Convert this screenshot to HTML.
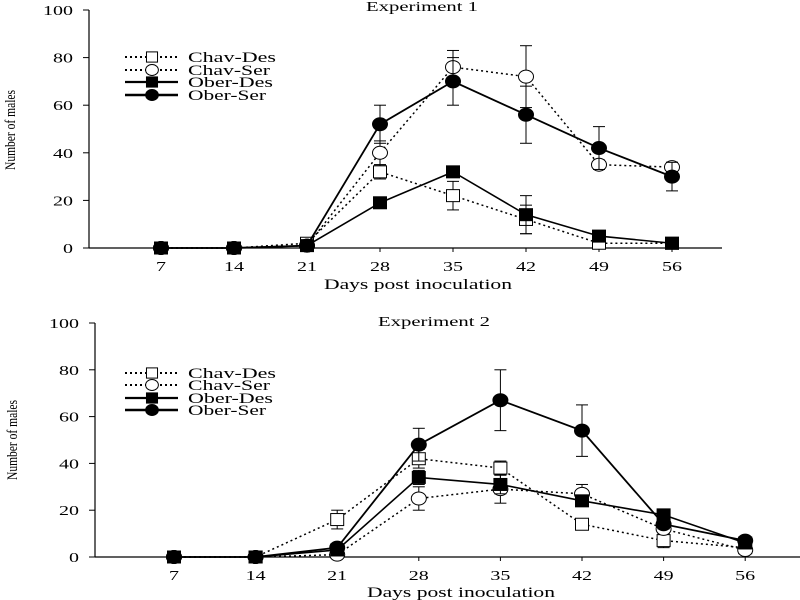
<!DOCTYPE html>
<html><head><meta charset="utf-8"><style>
html,body{margin:0;padding:0;background:#fff;}
svg{display:block;font-family:"Liberation Serif",serif;}
</style></head><body>
<svg id="chart" width="800" height="600" xmlns="http://www.w3.org/2000/svg"></svg>
<script>
const days = [7,14,21,28,35,42,49,56];
const yTicks = [0,20,40,60,80,100];
const seriesNames = ["Chav-Des","Chav-Ser","Ober-Des","Ober-Ser"];
// Experiment 1
const e1ChavDes = [0,0,2,32,22,12,2,2];
const e1ChavSer = [0,0,1,40,76,72,35,34];
const e1OberDes = [0,0,1,19,32,14,5,2];
const e1OberSer = [0,0,1,52,70,56,42,30];
const e1ChavDesErr = [0,0,0,3,6,6,0,0];
const e1ChavSerErr = [0,0,0,5,7,13,2,2];
const e1OberDesErr = [0,0,0,1,2,8,0,0];
const e1OberSerErr = [0,0,0,8,10,12,9,6];
// Experiment 2
const e2ChavDes = [0,0,16,42,38,14,7,4];
const e2ChavSer = [0,0,1,25,29,27,12,3];
const e2OberDes = [0,0,3,34,31,24,18,6];
const e2OberSer = [0,0,4,48,67,54,14,7];
const e2ChavDesErr = [0,0,4,4,3,1,3,0];
const e2ChavSerErr = [0,0,0,5,6,4,2,0];
const e2OberDesErr = [0,0,0,3,4,1,1,0];
const e2OberSerErr = [0,0,0,7,13,11,2,0];

const NS="http://www.w3.org/2000/svg";
const svg=document.getElementById('chart');
function mk(tag,attrs,parent){const e=document.createElementNS(NS,tag);for(const k in attrs)e.setAttribute(k,attrs[k]);(parent||svg).appendChild(e);return e;}
const legLen=[88,82,85,78];

function panel(cfg){
  const g=mk('g',{});
  
  
  const X=d=>cfg.x7+(d-7)*cfg.dx/7;
  const Y=v=>cfg.y0-v*cfg.dy;
  const ya=mk('line',{x1:cfg.ax,y1:Y(100),x2:cfg.ax,y2:Y(0),stroke:'#000','stroke-width':1.2},g);
  
  const xa=mk('line',{x1:cfg.ax,y1:Y(0),x2:cfg.axEnd,y2:Y(0),stroke:'#000','stroke-width':1.2},g);
  
  yTicks.forEach(t=>{
    mk('line',{x1:cfg.ax-6,y1:Y(t),x2:cfg.ax,y2:Y(t),stroke:'#000'},g);
    const s=String(t);
    const tx=mk('text',{x:cfg.ax-16,y:Y(t)+5,'text-anchor':'end','font-size':14,textLength:s.length*10,lengthAdjust:'spacingAndGlyphs'},g);
    tx.textContent=s;
    
  });
  days.forEach(d=>{
    mk('line',{x1:X(d),y1:Y(0),x2:X(d),y2:Y(0)+4,stroke:'#000'},g);
    const s=String(d);
    const tx=mk('text',{x:X(d),y:Y(0)+23,'text-anchor':'middle','font-size':14,textLength:s.length*10,lengthAdjust:'spacingAndGlyphs'},g);
    tx.textContent=s;
    
  });
  const ti=mk('text',{x:cfg.titleX,y:cfg.titleY,'text-anchor':'middle','font-size':14,textLength:112,lengthAdjust:'spacingAndGlyphs'},g);
  ti.textContent=cfg.title;
  const xl=mk('text',{x:cfg.xlX,y:cfg.xlY,'text-anchor':'middle','font-size':15,textLength:188,lengthAdjust:'spacingAndGlyphs'},g);
  xl.textContent='Days post inoculation';
  const yl=mk('text',{x:0,y:0,'text-anchor':'middle','font-size':15,textLength:80,lengthAdjust:'spacingAndGlyphs',transform:`translate(${cfg.ylX},${cfg.ylY}) rotate(-90)`},g);
  yl.textContent='Number of males';

  const styles=[
    {dash:'2,3',w:1.5,marker:'square',fill:'#fff'},
    {dash:'2,3',w:1.5,marker:'circle',fill:'#fff'},
    {dash:'',w:1.6,marker:'square',fill:'#000'},
    {dash:'',w:1.8,marker:'circle',fill:'#000'}];
  function marker(type,x,y,fill,parent,sc){
    sc=sc||1;
    if(type==='square') return mk('rect',{x:x-6.5*sc,y:y-6*sc,width:13*sc,height:12*sc,fill:fill,stroke:'#000','stroke-width':1},parent);
    return mk('ellipse',{cx:x,cy:y,rx:7.5*sc,ry:6.5*sc,fill:fill,stroke:'#000','stroke-width':1},parent);
  }
  cfg.series.forEach((vals,i)=>{
    const st=styles[i];const errs=cfg.errs[i];
    const sg=mk('g',{},g);
    
    
    vals.forEach((v,j)=>{
      if(errs[j]>0){
        const x=X(days[j]);
        mk('line',{x1:x,y1:Y(v-errs[j]),x2:x,y2:Y(v+errs[j]),stroke:'#000','stroke-width':1},sg);
        mk('line',{x1:x-6,y1:Y(v-errs[j]),x2:x+6,y2:Y(v-errs[j]),stroke:'#000','stroke-width':1},sg);
        mk('line',{x1:x-6,y1:Y(v+errs[j]),x2:x+6,y2:Y(v+errs[j]),stroke:'#000','stroke-width':1},sg);
      }
    });
    const pts=vals.map((v,j)=>X(days[j])+','+Y(v)).join(' ');
    const pl=mk('polyline',{points:pts,fill:'none',stroke:'#000','stroke-width':st.w},sg);
    if(st.dash)pl.setAttribute('stroke-dasharray',st.dash);
    vals.forEach((v,j)=>{
      const m=marker(st.marker,X(days[j]),Y(v),st.fill,sg);
      
      
    });
    const lg=mk('g',{},g);
    
    
    const ly=cfg.legY[i];
    const ll=mk('line',{x1:125,y1:ly,x2:178,y2:ly,stroke:'#000','stroke-width':st.w+0.6},lg);
    if(st.dash)ll.setAttribute('stroke-dasharray',st.dash);
    marker(st.marker,152,ly,st.fill,lg,0.85);
    const lt=mk('text',{x:188,y:ly+5,'font-size':15,textLength:legLen[i],lengthAdjust:'spacingAndGlyphs'},lg);
    lt.textContent=seriesNames[i];
  });
}
panel({name:'experiment-1-panel',ax:89,axEnd:722,x7:161,dx:73,y0:248,dy:2.38,
  title:'Experiment 1',titleX:422,titleY:11,xlX:418,xlY:289,ylX:15,ylY:130,
  legY:[57,70,82,95],
  series:[e1ChavDes,e1ChavSer,e1OberDes,e1OberSer],
  errs:[e1ChavDesErr,e1ChavSerErr,e1OberDesErr,e1OberSerErr]});
panel({name:'experiment-2-panel',ax:95,axEnd:800,x7:174,dx:81.6,y0:557,dy:2.34,
  title:'Experiment 2',titleX:434,titleY:326,xlX:461,xlY:597,ylX:17,ylY:440,
  legY:[373,385,398,410],
  series:[e2ChavDes,e2ChavSer,e2OberDes,e2OberSer],
  errs:[e2ChavDesErr,e2ChavSerErr,e2OberDesErr,e2OberSerErr]});
</script>
</body></html>
